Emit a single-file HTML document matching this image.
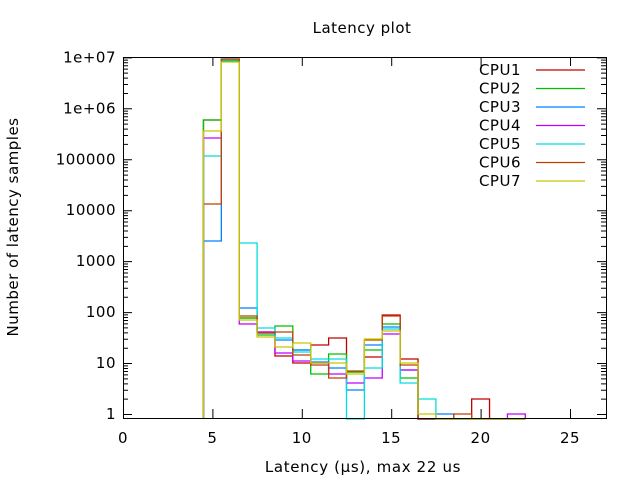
<!DOCTYPE html>
<html><head><meta charset="utf-8"><style>
html,body{margin:0;padding:0;background:#fff;}
svg{display:block;font-family:"DejaVu Sans","Liberation Sans",sans-serif;}
</style></head><body>
<svg id="s" width="640" height="480" xmlns="http://www.w3.org/2000/svg">
<rect width="640" height="480" fill="#fff"/>
<g id="ax" stroke="#000" stroke-width="1" fill="none"></g>
<g id="series" fill="none" stroke-width="1.3"></g>
<rect x="123.5" y="57.5" width="483" height="361" fill="none" stroke="#000"/>
<g font-size="15" fill="#000" id="txt" letter-spacing="0.5">
<text x="362" y="33" text-anchor="middle">Latency plot</text>
<text x="363" y="472" text-anchor="middle" letter-spacing="0.65">Latency (µs), max 22 us</text>
<text transform="translate(18,227) rotate(-90)" text-anchor="middle">Number of latency samples</text>
</g>
</svg>
<script>
var NS="http://www.w3.org/2000/svg";
function el(p,t,a,txt){var e=document.createElementNS(NS,t);for(var k in a)e.setAttribute(k,a[k]);if(txt!==undefined)e.textContent=txt;document.getElementById(p).appendChild(e);return e;}
function X(v){return 123+v*17.88;}
function Y(d){return 414-d*50.95;}
var ax="";
for(var i=0;i<=25;i+=5){var x=X(i)+0.5;ax+="M"+x+" 418V409M"+x+" 57V66";el("txt","text",{x:X(i),y:443,"text-anchor":"middle"},String(i));}
var yl=["1","10","100","1000","10000","100000","1e+06","1e+07"];
for(var d=0;d<=7;d++){var y=Y(d)+0.5;ax+="M123 "+y+"H132M606 "+y+"H597";el("txt","text",{x:116,y:Y(d)+5,"text-anchor":"end"},yl[d]);
 if(d<7)for(var m=2;m<=9;m++){var ym=Y(d+Math.log10(m))+0.5;ax+="M123 "+ym+"H128M606 "+ym+"H601";}}
el("ax","path",{d:ax});
var cols=["#c00000","#00c000","#0080ff","#c000ff","#00dddd","#c04000","#c8c800"];
var names=["CPU1","CPU2","CPU3","CPU4","CPU5","CPU6","CPU7"];
var Z=419;
var data=[
[120,59,318,332,356,363,345,338,372,357,315,359,Z,Z,Z,399,Z,Z],
[120,61,318,335,326,350,374,354,372,350,324,378,Z,Z,Z,Z,Z,Z],
[241,60,308,333,340,350,362,368,390,345,327,370,Z,414,Z,Z,Z,Z],
[138,60,324,332,353,361,363,374,383,378,334,370,Z,Z,Z,Z,Z,414],
[156,60,243,328,338,352,359,359,Z,368,329,383,399,Z,Z,Z,Z,Z],
[204,59,316,333,332,355,365,378,371,340,316,365,Z,Z,414,Z,Z,Z],
[131,62,320,337,347,343,363,363,374,339,331,363,414,Z,Z,Z,Z,Z]];
for(var s=0;s<7;s++){
 var p="M"+X(4.5)+" "+Z;
 for(var b=0;b<data[s].length;b++){var n=5+b;p+="V"+data[s][b]+"H"+X(n+0.5);}
 p+="V"+Z;
 el("series","path",{d:p,stroke:cols[s]});
 var ly=70+s*18.5;
 el("txt","text",{x:521,y:ly+5,"text-anchor":"end"},names[s]);
 el("series","path",{d:"M536 "+ly+"H585",stroke:cols[s]});
}
</script>
</body></html>
